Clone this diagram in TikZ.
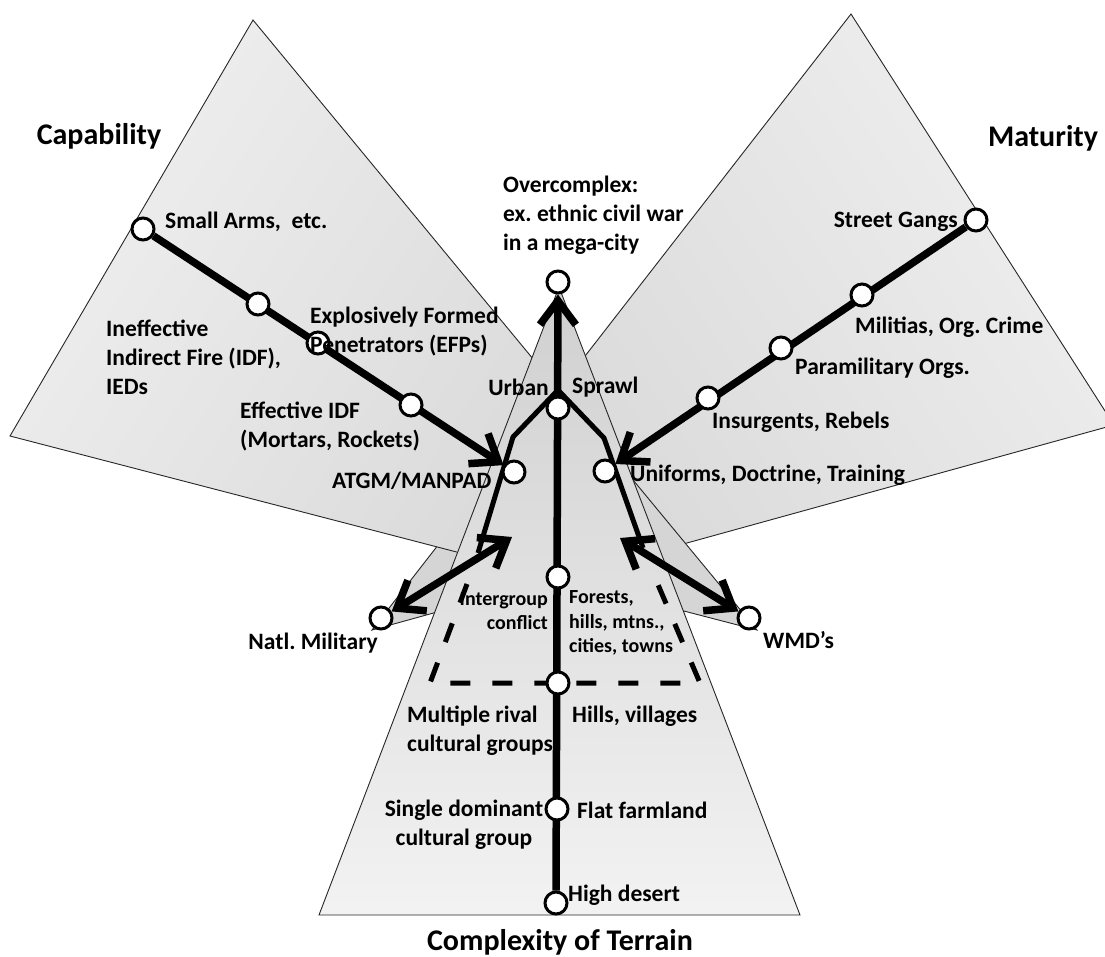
\documentclass[tikz,border=0pt]{standalone}
\usepackage{fontspec}
\setmainfont{Carlito}
\usetikzlibrary{arrows.meta}
\pgfdeclarelayer{trilayer}
\pgfdeclarelayer{connlayer}
\pgfsetlayers{trilayer,connlayer,main}
\newcommand\ttlfont{\fontsize{30}{36}\selectfont\bfseries}
\newcommand\lblfont{\fontsize{23.5}{29}\selectfont\bfseries}
\newcommand\smlfont{\fontsize{20}{24.5}\selectfont\bfseries}
\frenchspacing
\begin{document}
\begin{tikzpicture}[x=1pt,y=-1pt,
  >={Straight Barb[length=24pt,width=36pt]},
  facet/.style={draw=black!85, line width=0.9pt},
  dot/.style={circle, draw=black, line width=3pt, fill=white, minimum size=22pt, inner sep=0pt},
  mainline/.style={line width=7.5pt},
  branch/.style={line width=5pt, line join=round},
  dashline/.style={line width=5pt, dash pattern=on 20pt off 22pt},
  lbl/.style={font=\lblfont, inner sep=0pt, align=left},
  sml/.style={font=\smlfont, inner sep=0pt},
  ttl/.style={font=\ttlfont, inner sep=0pt}]
\useasboundingbox (0,0) rectangle (1105,956);
% triangle vertices
\coordinate (capA) at (253,20);
\coordinate (capB) at (10,436);
\coordinate (capC) at (757,630);
\coordinate (matA) at (851,14);
\coordinate (matB) at (1114,425);
\coordinate (matC) at (372,630);
\coordinate (terA) at (559,287);
\coordinate (terB) at (319,915);
\coordinate (terC) at (800,915);
\begin{pgfonlayer}{trilayer}
\shade[facet, top color=gray!13, bottom color=gray!33, shading angle=-56] (matA) -- (matB) -- (matC) -- cycle;
\shade[facet, top color=gray!13, bottom color=gray!33, shading angle=57] (capA) -- (capB) -- (capC) -- cycle;
\shade[facet, top color=gray!37, bottom color=gray!10] (terA) -- (terB) -- (terC) -- cycle;
\end{pgfonlayer}
% capability nodes
\node[dot] (sa) at (143,229) {};
\node[dot] (ci1) at (258,304) {};
\node[dot] (ci2) at (318,343) {};
\node[dot] (ci3) at (411,405) {};
\node[dot] (atgm) at (514,472) {};
% maturity nodes
\node[dot] (sg) at (976,220) {};
\node[dot] (ml) at (862,295) {};
\node[dot] (pm) at (781,348) {};
\node[dot] (ins) at (708,398) {};
\node[dot] (unif) at (605,471) {};
% terrain nodes
\node[dot] (oc) at (558,282) {};
\node[dot] (us) at (558,408) {};
\node[dot] (ig) at (558,577) {};
\node[dot] (hv) at (558,683) {};
\node[dot] (ff) at (557,809) {};
\node[dot] (hd) at (556,903) {};
\node[dot] (nm) at (381,618) {};
\node[dot] (wmd) at (749,618) {};
% free ends
\coordinate (nmt) at (512,537);
\coordinate (wmdt) at (620,538);
\coordinate (usj) at (558,390);
\coordinate (bl1) at (513,437);
\coordinate (bl2) at (478,553);
\coordinate (br1) at (604,438);
\coordinate (br2) at (643,548);
\coordinate (dl0) at (467,584);
\coordinate (dl1) at (430,683);
\coordinate (dr1) at (700,683);
\coordinate (dr0) at (656,580);
\begin{pgfonlayer}{connlayer}
\draw[mainline,->] (sa) -- (atgm);
\draw[mainline,->] (sg) -- (unif);
\draw[mainline,->] (hd) -- (oc);
\draw[mainline,<->] (nm) -- (nmt);
\draw[mainline,<->] (wmd) -- (wmdt);
\draw[branch] (bl2) -- (bl1) -- (usj) -- (br1) -- (br2);
\draw[dashline] (dl0) -- (dl1) -- (dr1) -- (dr0);
\end{pgfonlayer}
% labels
\node[ttl] (tcap) at (99,136) {Capability};
\node[ttl] (tmat) at (1043,138) {Maturity};
\node[ttl] (tter) at (560,942) {Complexity of Terrain};
\node[lbl, anchor=west] (lsa) at (165,222) {Small Arms,\ \ etc.};
\node[lbl, anchor=west] (lineff) at (106,357) {Ineffective\\Indirect Fire (IDF),\\IEDs};
\node[lbl, anchor=west] (lefp) at (310,332) {Explosively Formed\\Penetrators (EFPs)};
\node[lbl, anchor=west] (leidf) at (240,427) {Effective IDF\\(Mortars, Rockets)};
\node[lbl, anchor=west] (latgm) at (332,481) {ATGM/MANPAD};
\node[lbl, anchor=west] (loc) at (503,215) {Overcomplex:\\ex. ethnic civil war\\in a mega-city};
\node[lbl, anchor=east] (lsg) at (958,222) {Street Gangs};
\node[lbl, anchor=west] (lml) at (855,327) {Militias, Org. Crime};
\node[lbl, anchor=west] (lpm) at (795,368) {Paramilitary Orgs.};
\node[lbl, anchor=west] (lins) at (712,422) {Insurgents, Rebels};
\node[lbl, anchor=west] (lunif) at (630,475) {Uniforms, Doctrine, Training};
\node[lbl, anchor=east] (lurb) at (549,387) {Urban};
\node[lbl, anchor=west] (lspr) at (572,387) {Sprawl};
\node[sml, anchor=east, align=right] (lig) at (548,611) {Intergroup\\conflict};
\node[sml, anchor=west, align=left] (lfor) at (569,623) {Forests,\\hills, mtns.,\\cities, towns};
\node[lbl, anchor=east] (lnm) at (378,643) {Natl. Military};
\node[lbl, anchor=west] (lwmd) at (763,640) {WMD’s};
\node[lbl, anchor=west] (lmr) at (407,731) {Multiple rival\\cultural groups};
\node[lbl, anchor=west] (lhv) at (572,716) {Hills, villages};
\node[lbl, align=center] (lsd) at (464,825) {Single dominant\\cultural group};
\node[lbl, anchor=west] (lff) at (577,810) {Flat farmland};
\node[lbl, anchor=west] (lhd) at (568,895) {High desert};
\end{tikzpicture}
\end{document}
